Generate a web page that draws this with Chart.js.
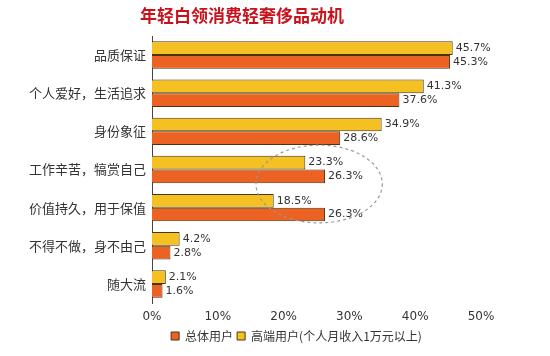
<!DOCTYPE html>
<html><head><meta charset="utf-8">
<script src="https://cdn.jsdelivr.net/npm/chart.js@4"></script>
<style>html,body{margin:0;padding:0;background:#fff}#wrap{width:550px;height:356px}</style>
</head><body><div id="wrap"><canvas id="c"></canvas></div>
<script>
const titleText = '年轻白领消费轻奢侈品动机';
const categories = ['品质保证','个人爱好，生活追求','身份象征','工作辛苦，犒赏自己','价值持久，用于保值','不得不做，身不由己','随大流'];
const highEndLabel = '高端用户(个人月收入1万元以上)';
const overallLabel = '总体用户';
const highEnd = [45.7, 41.3, 34.9, 23.3, 18.5, 4.2, 2.1];
const overall = [45.3, 37.6, 28.6, 26.3, 26.3, 2.8, 1.6];
const xTicks = [0, 10, 20, 30, 40, 50];

const CJK = '"Noto Sans CJK SC","Noto Sans",sans-serif';

const decor = {
  id: 'decor',
  afterUpdate(chart) {
    if (chart.legend) { chart.legend.left += 56; chart.legend.right += 56; }
  },
  afterDraw(chart) {
    const ctx = chart.ctx;
    const xs = chart.scales.x, ys = chart.scales.y;
    ctx.save();
    ctx.font = 'bold 17px ' + CJK;
    ctx.fillStyle = '#c8121c';
    ctx.textAlign = 'center';
    ctx.textBaseline = 'middle';
    ctx.fillText(titleText, 242, 16);
    ctx.font = '11px "DejaVu Sans", sans-serif';
    ctx.fillStyle = '#333';
    ctx.textAlign = 'left';
    chart.data.datasets.forEach((ds, di) => {
      const meta = chart.getDatasetMeta(di);
      meta.data.forEach((bar, i) => {
        ctx.fillText(ds.data[i].toFixed(1) + '%', bar.x + 3, bar.y);
      });
    });
    const step = ys.getPixelForValue(4) - ys.getPixelForValue(3);
    const cy = (ys.getPixelForValue(3) + ys.getPixelForValue(4)) / 2 - step * 0.12;
    const cx = xs.getPixelForValue(25.4);
    const rx = xs.getPixelForValue(9.6) - xs.getPixelForValue(0);
    const ry = step * 1.02;
    ctx.beginPath();
    ctx.setLineDash([3, 3]);
    ctx.strokeStyle = '#999';
    ctx.lineWidth = 1.2;
    ctx.ellipse(cx, cy, rx, ry, 0, 0, Math.PI * 2);
    ctx.stroke();
    ctx.restore();
  }
};

new Chart(document.getElementById('c'), {
  type: 'bar',
  data: {
    labels: categories,
    datasets: [
      { label: highEndLabel, data: highEnd, backgroundColor: '#f4c022', borderColor: '#4a3410', borderWidth: 1, categoryPercentage: 0.72, barPercentage: 1 },
      { label: overallLabel, data: overall, backgroundColor: '#ec6222', borderColor: '#4a3410', borderWidth: 1, categoryPercentage: 0.72, barPercentage: 1 }
    ]
  },
  options: {
    indexAxis: 'y',
    responsive: true,
    maintainAspectRatio: false,
    animation: false,
    layout: { padding: { top: 36, right: 69, left: 0, bottom: 4 } },
    plugins: {
      title: { display: false },
      tooltip: { enabled: false },
      legend: {
        position: 'bottom',
        reverse: true,
        labels: {
          boxWidth: 8, boxHeight: 8, padding: 4,
          color: '#333',
          font: { family: CJK, size: 12 }
        }
      }
    },
    scales: {
      x: {
        min: 0, max: 50,
        afterBuildTicks(s) { s.ticks = xTicks.map(v => ({ value: v })); },
        afterFit(s) { s.height = 23; },
        grid: { display: false, drawTicks: false },
        border: { display: false },
        ticks: { color: '#333', padding: 7, font: { family: '"DejaVu Sans", sans-serif', size: 12 }, callback: v => v + '%' }
      },
      y: {
        afterFit(s) { s.width = 152; },
        grid: { display: false, drawTicks: false },
        border: { display: true, color: '#444', width: 1 },
        ticks: { color: '#333', padding: 6, font: { family: CJK, size: 13 } }
      }
    }
  },
  plugins: [decor]
});
</script></body></html>
